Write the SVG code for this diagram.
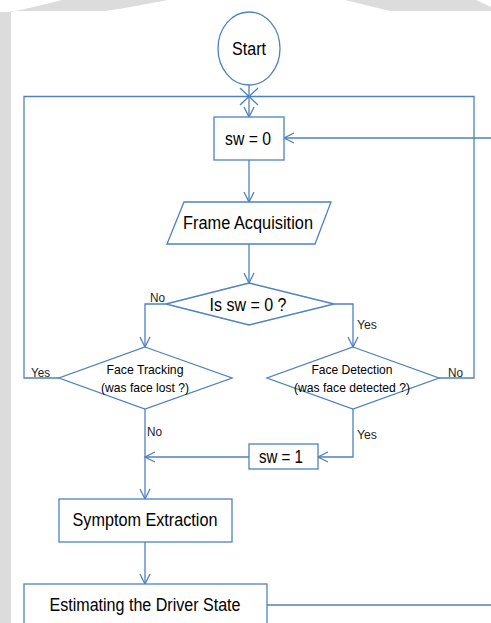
<svg xmlns="http://www.w3.org/2000/svg" width="491" height="623" viewBox="0 0 491 623">
  <style>
    .shape { fill: #ffffff; stroke: #4f81bd; stroke-width: 1.3; }
    .line { fill: none; stroke: #4f81bd; stroke-width: 1.3; }
    .lbl { font-family: "Liberation Sans", Arial, sans-serif; fill: #000000; text-anchor: middle; }
    .big { font-size: 17.5px; }
    .mid { font-size: 13.5px; }
    .small { font-family: "Liberation Sans", Arial, sans-serif; font-size: 12px; fill: #222222; }
    .bg { fill: #dcdcdc; stroke: none; }
  </style>
  <defs>
    <marker id="arrow" markerUnits="userSpaceOnUse" markerWidth="14" markerHeight="14" viewBox="-2 -2 14 14" refX="10" refY="5" orient="auto">
      <path d="M0,0 L10,5 L0,10" fill="none" stroke="#4f81bd" stroke-width="1.3"/>
    </marker>
  </defs>

  <g id="background">
    <rect x="0" y="0" width="491" height="623" fill="#ffffff"/>
    <rect class="bg" x="0" y="12" width="11" height="611"/>
    <polygon class="bg" points="0,14 25,9 50,3 62,0 168,0 125,8 105,11 11,11 11,14"/>
    <polygon class="bg" points="345,0 476,0 491,7 491,11 390,11"/>
  </g>

  <g id="connectors">
    <path class="line" d="M249,85 L249,96.5"/>
    <path class="line" d="M240,88 L249,96.5 L258,88 M240,105 L249,96.5 L258,105"/>
    <path class="line" d="M59,378 L24,378 L24,96.5 L249,96.5"/>
    <path class="line" d="M439,378 L474,378 L474,96.5 L249,96.5"/>
    <path class="line" d="M249,96.5 L249,117" marker-end="url(#arrow)"/>
    <path class="line" d="M491,138 L284,138" marker-end="url(#arrow)"/>
    <path class="line" d="M249,160 L249,202" marker-end="url(#arrow)"/>
    <path class="line" d="M249,244 L249,283" marker-end="url(#arrow)"/>
    <path class="line" d="M166,304 L145,304 L145,347" marker-end="url(#arrow)"/>
    <path class="line" d="M334,304 L353,304 L353,347" marker-end="url(#arrow)"/>
    <path class="line" d="M353,409 L353,457 L318,457" marker-end="url(#arrow)"/>
    <path class="line" d="M249,457 L145,457" marker-end="url(#arrow)"/>
    <path class="line" d="M145,409 L145,499" marker-end="url(#arrow)"/>
    <path class="line" d="M145,542 L145,584" marker-end="url(#arrow)"/>
    <path class="line" d="M267,605 L491,605"/>
    <text class="small" x="150" y="302" textLength="15" lengthAdjust="spacingAndGlyphs">No</text>
    <text class="small" x="357" y="329" textLength="20" lengthAdjust="spacingAndGlyphs">Yes</text>
    <text class="small" x="31" y="377" textLength="19" lengthAdjust="spacingAndGlyphs">Yes</text>
    <text class="small" x="448" y="377" textLength="15" lengthAdjust="spacingAndGlyphs">No</text>
    <text class="small" x="147" y="436" textLength="15" lengthAdjust="spacingAndGlyphs">No</text>
    <text class="small" x="357" y="439" textLength="20" lengthAdjust="spacingAndGlyphs">Yes</text>
  </g>

  <g id="start">
    <ellipse class="shape" cx="249" cy="48.5" rx="31" ry="36.5"/>
    <text class="lbl big" x="249" y="55" textLength="34" lengthAdjust="spacingAndGlyphs">Start</text>
  </g>

  <g id="sw0">
    <rect class="shape" x="214" y="117" width="70" height="43"/>
    <text class="lbl big" x="248" y="145" textLength="46" lengthAdjust="spacingAndGlyphs">sw = 0</text>
  </g>

  <g id="frame-acquisition">
    <polygon class="shape" points="184,202 331,202 315,244 167,244"/>
    <text class="lbl big" x="248" y="229" textLength="130" lengthAdjust="spacingAndGlyphs">Frame Acquisition</text>
  </g>

  <g id="is-sw-0">
    <polygon class="shape" points="249,283 334,304 249,325 166,304"/>
    <text class="lbl big" x="248" y="311" textLength="77" lengthAdjust="spacingAndGlyphs">Is sw = 0 ?</text>
  </g>

  <g id="face-tracking">
    <polygon class="shape" points="145,347 232,378 145,409 59,378"/>
    <text class="lbl mid" x="145" y="374" textLength="77" lengthAdjust="spacingAndGlyphs">Face Tracking</text>
    <text class="lbl mid" x="145" y="392" textLength="88" lengthAdjust="spacingAndGlyphs">(was face lost ?)</text>
  </g>

  <g id="face-detection">
    <polygon class="shape" points="353,347 439,378 353,409 267,378"/>
    <text class="lbl mid" x="352" y="374" textLength="81" lengthAdjust="spacingAndGlyphs">Face Detection</text>
    <text class="lbl mid" x="352" y="392" textLength="116" lengthAdjust="spacingAndGlyphs">(was face detected ?)</text>
  </g>

  <g id="sw1">
    <rect class="shape" x="249" y="444" width="69" height="25"/>
    <text class="lbl big" x="281" y="463" textLength="44" lengthAdjust="spacingAndGlyphs">sw = 1</text>
  </g>

  <g id="symptom-extraction">
    <rect class="shape" x="59" y="499" width="173" height="43"/>
    <text class="lbl big" x="145" y="526" textLength="145" lengthAdjust="spacingAndGlyphs">Symptom Extraction</text>
  </g>

  <g id="estimating-driver-state">
    <rect class="shape" x="24" y="584" width="243" height="50"/>
    <text class="lbl big" x="145" y="611" textLength="191" lengthAdjust="spacingAndGlyphs">Estimating the Driver State</text>
  </g>
</svg>
